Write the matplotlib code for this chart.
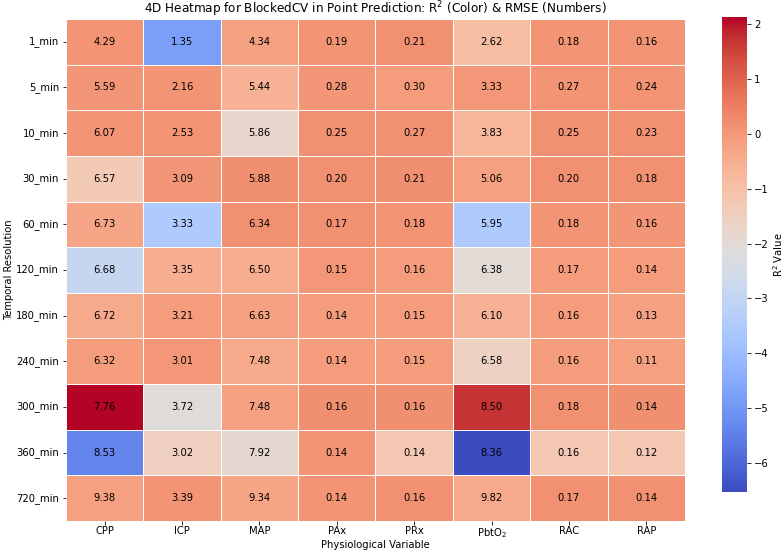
import numpy as np
import matplotlib
matplotlib.use('Agg')
import matplotlib.pyplot as plt
import seaborn as sns

resolutions = ['1_min', '5_min', '10_min', '30_min', '60_min', '120_min',
               '180_min', '240_min', '300_min', '360_min', '720_min']
variables = ['CPP', 'ICP', 'MAP', 'PAx', 'PRx', 'PbtO$_2$', 'RAC', 'RAP']

# R2 values (colour)
r2 = np.array([
    [0.10, -4.80, -0.20, 0.10, 0.15, -0.90, 0.10, 0.10],
    [0.05, 0.10, -0.60, 0.05, -0.10, 0.00, 0.10, 0.10],
    [0.10, 0.10, -1.80, 0.15, 0.15, -0.70, 0.15, 0.15],
    [-1.30, 0.05, 0.20, 0.15, 0.20, -0.20, 0.15, 0.15],
    [-0.30, -3.50, 0.15, 0.15, 0.10, -3.50, 0.10, 0.05],
    [-2.90, -0.50, -0.50, 0.00, -0.10, -2.00, -0.10, -0.10],
    [-0.40, -0.10, -0.20, -0.10, -0.10, -0.60, -0.10, -0.20],
    [-0.10, 0.00, -0.40, -0.10, -0.10, -1.60, -0.10, -0.20],
    [2.13, -2.10, -0.20, 0.20, 0.20, 1.70, 0.15, 0.20],
    [-5.40, -1.50, -1.90, 0.10, -1.20, -6.53, -1.20, -1.20],
    [-0.20, 0.10, -0.30, 0.10, 0.15, -0.40, 0.15, 0.15],
])

# RMSE values (numbers)
rmse = np.array([
    [4.29, 1.35, 4.34, 0.19, 0.21, 2.62, 0.18, 0.16],
    [5.59, 2.16, 5.44, 0.28, 0.30, 3.33, 0.27, 0.24],
    [6.07, 2.53, 5.86, 0.25, 0.27, 3.83, 0.25, 0.23],
    [6.57, 3.09, 5.88, 0.20, 0.21, 5.06, 0.20, 0.18],
    [6.73, 3.33, 6.34, 0.17, 0.18, 5.95, 0.18, 0.16],
    [6.68, 3.35, 6.50, 0.15, 0.16, 6.38, 0.17, 0.14],
    [6.72, 3.21, 6.63, 0.14, 0.15, 6.10, 0.16, 0.13],
    [6.32, 3.01, 7.48, 0.14, 0.15, 6.58, 0.16, 0.11],
    [7.76, 3.72, 7.48, 0.16, 0.16, 8.50, 0.18, 0.14],
    [8.53, 3.02, 7.92, 0.14, 0.14, 8.36, 0.16, 0.12],
    [9.38, 3.39, 9.34, 0.14, 0.16, 9.82, 0.17, 0.14],
])

# 72 dpi so that 1 pt == 1 px
fig = plt.figure(figsize=(783 / 72, 552 / 72), dpi=72)
ax = fig.add_axes([0.0843, 0.0562, 0.7905, 0.9094])
cax = fig.add_axes([0.9221, 0.1087, 0.0319, 0.8605])
sns.heatmap(r2, annot=rmse, fmt='.2f', cmap='coolwarm', linewidths=0.7,
            linecolor='white', xticklabels=variables, yticklabels=resolutions,
            annot_kws={'size': 10, 'color': 'black'}, ax=ax, cbar_ax=cax)
ax.set_title('4D Heatmap for BlockedCV in Point Prediction: R$^2$ (Color) & RMSE (Numbers)', fontsize=12, pad=3)
ax.set_xlabel('Physiological Variable', fontsize=10, labelpad=0)
ax.set_ylabel('Temporal Resolution', fontsize=10, labelpad=2)
ax.tick_params(labelsize=10)
ax.tick_params(axis='x', pad=2)
plt.setp(ax.get_yticklabels(), rotation=0)
cax.tick_params(labelsize=10)
cax.set_ylabel('R$^2$ Value', fontsize=10, labelpad=2)
plt.savefig('out.png', dpi=72)
